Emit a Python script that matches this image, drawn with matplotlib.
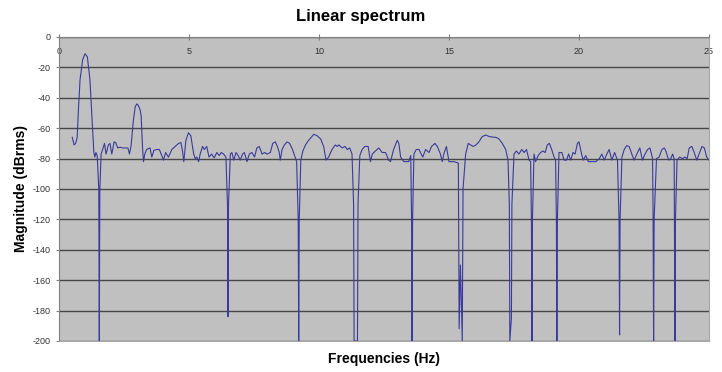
import matplotlib.pyplot as plt

# spectrum (Hz, dBrms)
freq_hz = [
    0.51, 0.58, 0.64, 0.70, 0.74, 0.81, 0.91, 1.00, 1.09, 1.19, 1.28, 1.34,
    1.38, 1.42, 1.47, 1.53, 1.55, 1.57, 1.62, 1.68, 1.75, 1.81, 1.90, 1.96,
    2.03, 2.12, 2.18, 2.26, 2.35, 2.45, 2.54, 2.65, 2.71, 2.77, 2.86, 2.93,
    2.99, 3.05, 3.12, 3.16, 3.21, 3.25, 3.30, 3.37, 3.50, 3.57, 3.65, 3.77,
    3.86, 3.93, 4.02, 4.10, 4.21, 4.34, 4.47, 4.60, 4.69, 4.75, 4.80, 4.88,
    4.98, 5.07, 5.18, 5.24, 5.30, 5.37, 5.43, 5.52, 5.59, 5.68, 5.77, 5.87,
    5.97, 6.07, 6.16, 6.24, 6.33, 6.42, 6.48, 6.50, 6.52, 6.59, 6.65, 6.72,
    6.81, 6.89, 6.97, 7.06, 7.13, 7.23, 7.32, 7.42, 7.52, 7.61, 7.70, 7.81,
    7.91, 8.00, 8.13, 8.22, 8.32, 8.40, 8.47, 8.51, 8.58, 8.67, 8.77, 8.87,
    8.98, 9.06, 9.14, 9.20, 9.22, 9.24, 9.30, 9.38, 9.48, 9.60, 9.70, 9.80,
    9.93, 10.06, 10.18, 10.27, 10.37, 10.50, 10.63, 10.70, 10.76, 10.89, 11.00, 11.09,
    11.18, 11.27, 11.33, 11.35, 11.48, 11.50, 11.57, 11.66, 11.76, 11.89, 11.98, 12.05,
    12.17, 12.30, 12.43, 12.56, 12.68, 12.75, 12.87, 13.01, 13.07, 13.14, 13.26, 13.45,
    13.53, 13.56, 13.58, 13.60, 13.65, 13.74, 13.85, 13.90, 13.99, 14.10, 14.23, 14.33,
    14.46, 14.55, 14.67, 14.74, 14.80, 14.90, 15.00, 15.20, 15.36, 15.39, 15.44, 15.51,
    15.54, 15.64, 15.74, 15.83, 15.93, 16.04, 16.15, 16.28, 16.41, 16.55, 16.73, 16.80,
    16.92, 17.05, 17.18, 17.27, 17.32, 17.34, 17.40, 17.42, 17.50, 17.59, 17.69, 17.80,
    17.89, 17.98, 18.08, 18.14, 18.17, 18.19, 18.21, 18.27, 18.33, 18.43, 18.52, 18.62,
    18.70, 18.78, 18.86, 18.95, 19.04, 19.10, 19.13, 19.15, 19.17, 19.23, 19.34, 19.43,
    19.52, 19.60, 19.68, 19.77, 19.85, 19.94, 20.00, 20.10, 20.16, 20.26, 20.36, 20.52,
    20.65, 20.78, 20.88, 20.97, 21.07, 21.16, 21.26, 21.37, 21.48, 21.54, 21.56, 21.58,
    21.65, 21.74, 21.83, 21.93, 22.03, 22.12, 22.25, 22.34, 22.44, 22.54, 22.64, 22.73,
    22.83, 22.85, 22.87, 22.89, 22.98, 23.08, 23.19, 23.28, 23.34, 23.45, 23.53, 23.60,
    23.66, 23.67, 23.69, 23.71, 23.77, 23.87, 23.98, 24.07, 24.16, 24.24, 24.34, 24.43,
    24.53, 24.62, 24.73, 24.82, 24.91, 25.00,
]
magnitude_dbrms = [
    -66, -71, -70, -66, -50, -28, -15, -11, -13, -28, -57, -76,
    -79, -76, -78, -100, -200, -100, -77, -74, -70, -77, -71, -70,
    -77, -69, -69.5, -73, -72.5, -73, -73, -73, -77, -72, -55, -46,
    -44, -45, -48, -52, -72, -82, -77, -74, -73, -79, -74.5, -74,
    -74, -77, -81, -76, -79, -74, -72, -70, -69.5, -75, -82, -68,
    -63, -65, -77, -80, -79, -82, -77, -72, -74, -72, -79, -77,
    -79.5, -76, -78, -76, -77, -79, -110, -184, -110, -77, -76, -81,
    -76, -78, -81, -77, -76, -82, -77, -76, -79, -73, -72, -77,
    -76, -77, -76, -70, -69, -72, -76, -81, -74, -71, -69, -70,
    -74, -78, -82, -120, -200, -120, -81, -75, -71, -68, -66, -64,
    -65, -67, -72, -81, -79, -74, -71, -72, -71, -73, -72, -74,
    -73, -77, -110, -200, -200, -110, -78, -74, -72, -72, -82, -77,
    -75, -73, -76, -76, -81, -82, -74, -68, -70, -79, -82, -82,
    -78, -120, -200, -120, -77, -74, -74, -76, -79, -74, -76, -72,
    -70, -72, -77, -82, -77, -72, -82, -82, -83, -192, -150, -200,
    -100, -77, -70, -71, -72, -71, -69, -65.5, -64.5, -65.5, -66, -66,
    -67, -70, -74, -81, -110, -200, -185, -110, -77, -75, -77, -74,
    -76, -74, -81, -82, -120, -200, -120, -77, -82, -78, -76, -75,
    -76, -71, -70, -74, -79, -81, -120, -200, -120, -76, -76, -81,
    -81, -77, -81, -76, -77, -70, -69, -77, -81, -78, -82, -82,
    -82, -80, -77, -81, -77, -74, -81, -76, -81, -120, -196, -120,
    -79, -74, -71.5, -72, -77, -81, -76, -73, -81, -77, -74, -73,
    -80, -120, -200, -120, -80, -79, -74, -73, -75, -81, -80, -77,
    -80, -120, -200, -120, -81, -79, -80, -79, -80, -73, -72, -76,
    -81, -77, -72, -73, -79, -81,
]

x_ticks = [0, 5, 10, 15, 20, 25]
y_ticks = list(range(-200, 1, 20))

plt.rcParams['font.family'] = ['Liberation Sans', 'DejaVu Sans']
plt.rcParams['axes.unicode_minus'] = False

fig = plt.figure(figsize=(7.22, 3.72), dpi=100)
ax = fig.add_axes([59 / 722, 1 - 341 / 372, 650 / 722, 304 / 372])
ax.set_facecolor('#c0c0c0')
ax.set_axisbelow(True)
ax.yaxis.grid(True, color='#474747', linewidth=1.0)

ax.plot(freq_hz, magnitude_dbrms, color='#3a3a9c', linewidth=0.8)

ax.set_xlim(0, 25)
ax.set_ylim(-200, 0)
ax.set_xticks(x_ticks)
ax.set_yticks(y_ticks)

# x axis sits on 0 dB at the top, labels hang inside the plot
ax.xaxis.set_ticks_position('top')
ax.tick_params(axis='x', direction='inout', length=4, width=0.8, color='#808080',
               labeltop=True, labelbottom=False, pad=-16,
               labelsize=6.5, labelcolor='#333333')
ax.tick_params(axis='y', direction='out', length=2.5, width=0.8, color='#808080',
               pad=3.5, labelsize=6.5, labelcolor='#333333')

for side in ['left', 'top']:
    ax.spines[side].set_color('#808080')
for side in ['right', 'bottom']:
    ax.spines[side].set_color('#a8a8a8')

ax.set_xlabel('Frequencies (Hz)', fontsize=10, fontweight='bold', labelpad=8)
ax.set_ylabel('Magnitude (dBrms)', fontsize=10, fontweight='bold')
ax.yaxis.set_label_coords(-0.048, 0.5)

fig.text(0.5, 1 - 17 / 372, 'Linear spectrum', ha='center', va='center',
         fontsize=12, fontweight='bold')

fig.savefig('out.png', dpi=100)
